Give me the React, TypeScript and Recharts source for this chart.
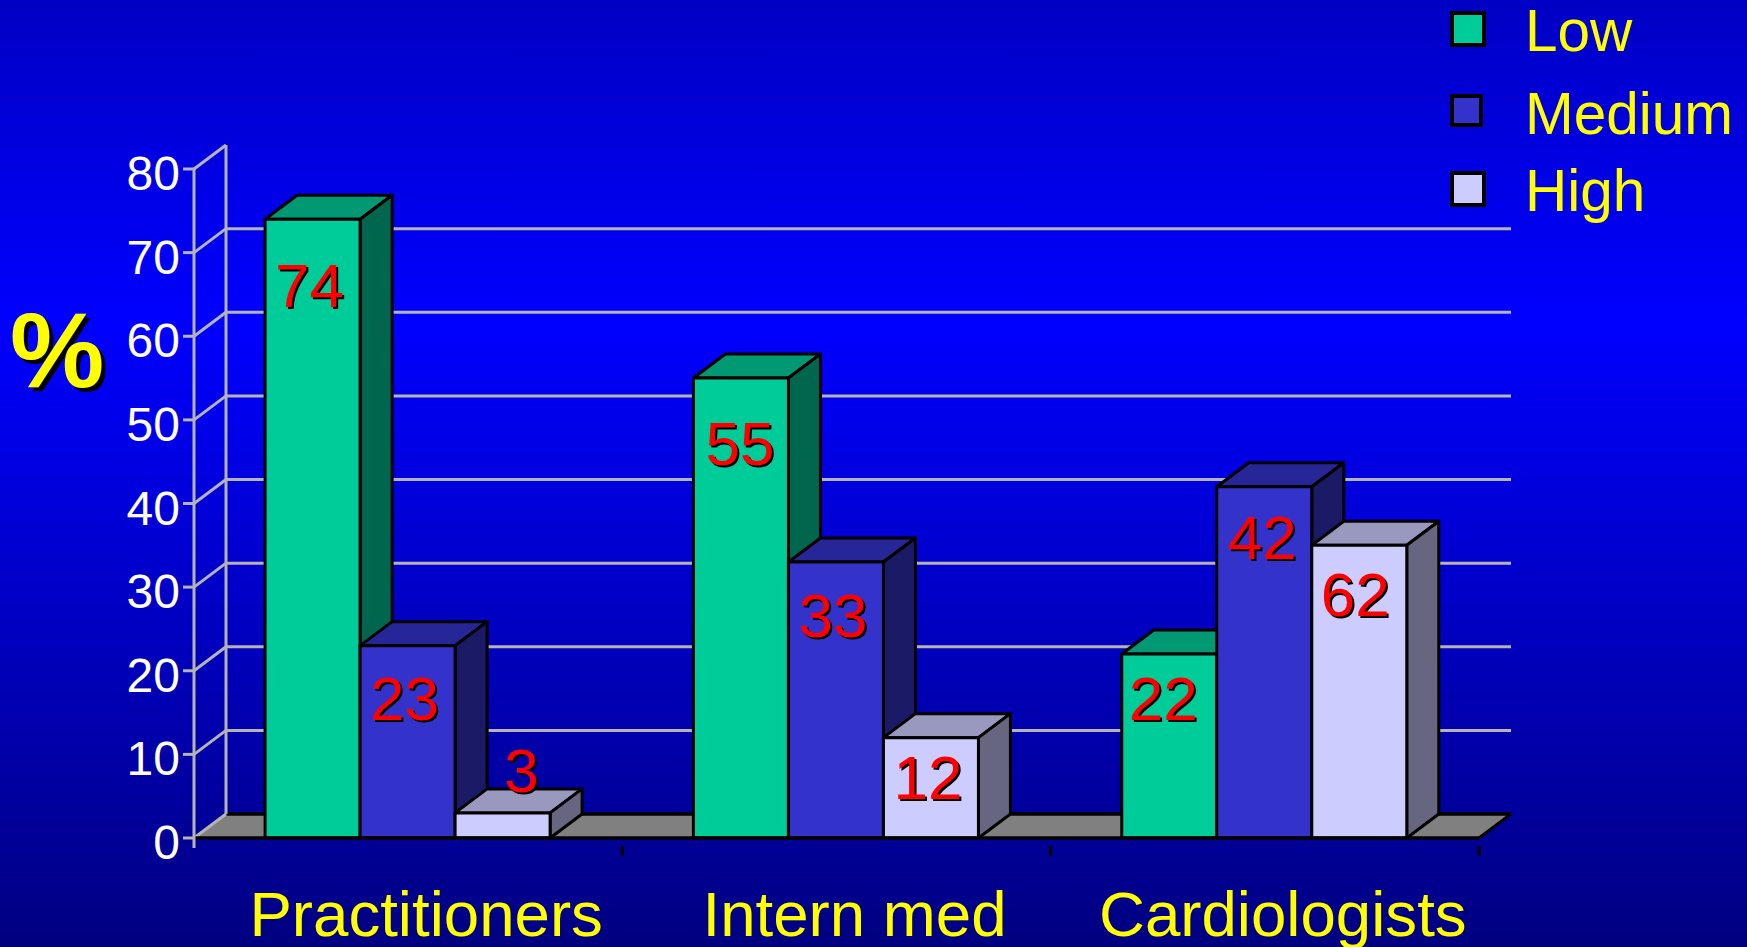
import React from 'react';
import { BarChart, Bar, XAxis, YAxis, CartesianGrid, Legend, LabelList } from 'recharts';

const categories = ['Practitioners', 'Intern med', 'Cardiologists'];
const lowValues = [74, 55, 22];
const mediumValues = [23, 33, 42];
const highValues = [3, 12, 35];
// the printed labels, the last one does not agree with its bar in the original slide
const lowLabels = ['74', '55', '22'];
const mediumLabels = ['23', '33', '42'];
const highLabels = ['3', '12', '62'];
const yTicks = [0, 10, 20, 30, 40, 50, 60, 70, 80];

const data = categories.map((name, i) => ({
  name,
  low: lowValues[i],
  medium: mediumValues[i],
  high: highValues[i],
  lowLabel: lowLabels[i],
  mediumLabel: mediumLabels[i],
  highLabel: highLabels[i],
}));

const WIDTH = 1747;
const HEIGHT = 947;
const LEFT = 194;
const RIGHT = 268;
const TOP = 169;
const BOTTOM = 109;
const DX = 32;
const DY = 24;
const FONT = '"Liberation Sans", Arial, sans-serif';
const GRID = '#b4b4b4';
const BAND = (WIDTH - LEFT - RIGHT) / categories.length;

const lowOffsets = [[-3, 66], [-1, 65], [-6, 44]];
const mediumOffsets = [[-3, 52], [-3, 53], [-2, 50]];
const highOffsets = [[19, -43], [-3, 39], [-4, 49]];

const legendRows = [
  { top: 11, size: 36, baseline: 51 },
  { top: 94, size: 33, baseline: 134 },
  { top: 171, size: 36, baseline: 211 },
];

const Box3D = (colors: { front: string; top: string; side: string }) => (props: any) => {
  const { x, y, width, height } = props;
  const r = x + width;
  const b = y + height;
  return (
    <g stroke="#000" strokeWidth={3} strokeLinejoin="round">
      <polygon points={`${x},${y} ${x + DX},${y - DY} ${r + DX},${y - DY} ${r},${y}`} fill={colors.top} />
      <polygon points={`${r},${y} ${r + DX},${y - DY} ${r + DX},${b - DY} ${r},${b}`} fill={colors.side} />
      <rect x={x} y={y} width={width} height={height} fill={colors.front} />
    </g>
  );
};

const barLabel = (offsets: number[][]) => (props: any) => {
  const box = props.viewBox || props;
  const w = box.width ?? box.upperWidth;
  const cx = box.x + w / 2 + offsets[props.index][0];
  const cy = box.y + offsets[props.index][1] + 22;
  const common = { x: cx, textAnchor: 'middle' as const, fontSize: 62, fontFamily: FONT };
  return (
    <g>
      <text {...common} y={cy + 2} dx={2} fill="#000">{props.value}</text>
      <text {...common} y={cy} fill="#ff0000">{props.value}</text>
    </g>
  );
};

// wall and floor, drawn from the y positions the grid hands over
const WallLine = (props: any) => {
  const { x1, x2, y1, y, height } = props;
  if (Math.abs(y1 - (y + height)) < 0.5) {
    return (
      <g key={`floor-${y1}`}>
        <polygon points={`${x1},${y1} ${x1 + DX},${y1 - DY} ${x2 + DX},${y1 - DY} ${x2},${y1}`} fill="#808080" />
        <line x1={x1 + DX} y1={y1 - DY} x2={x2 + DX} y2={y1 - DY} stroke="#000" strokeWidth={3.5} />
        <line x1={x2} y1={y1} x2={x2 + DX} y2={y1 - DY} stroke="#000" strokeWidth={3} />
        <line x1={x1} y1={y1} x2={x1 + DX} y2={y1 - DY} stroke={GRID} strokeWidth={3} />
        <line x1={x1 + DX} y1={y1 - DY} x2={x1 + DX} y2={y - DY} stroke={GRID} strokeWidth={3} />
      </g>
    );
  }
  return (
    <g key={`wall-${y1}`} stroke={GRID} strokeWidth={3} fill="none">
      <line x1={x1} y1={y1} x2={x1 + DX} y2={y1 - DY} />
      {Math.abs(y1 - y) > 0.5 && <line x1={x1 + DX} y1={y1 - DY} x2={x2 + DX} y2={y1 - DY} />}
    </g>
  );
};

const YTick = (props: any) => {
  const { x, y, payload } = props;
  return (
    <g>
      {payload.value === 0 && <line x1={LEFT} y1={y} x2={LEFT} y2={y + 10} stroke={GRID} strokeWidth={3} />}
      <text x={x} y={y + 21} textAnchor="end" fontSize={48} fontFamily={FONT} fill="#fff">{payload.value}</text>
    </g>
  );
};

const XTick = (props: any) => {
  const { x, y, payload } = props;
  return (
    <g>
      <line x1={x + BAND / 2} y1={y} x2={x + BAND / 2} y2={y + 10} stroke="#000" strokeWidth={3} />
      <text x={x + 18} y={936} textAnchor="middle" fontSize={63.6} fontFamily={FONT} fill="#ffff00">{payload.value}</text>
    </g>
  );
};

const LegendBox = (props: any) => (
  <div style={{ position: 'absolute', left: 0, top: 0, width: 0, height: 0 }}>
    {(props.payload || []).map((item: any, i: number) => {
      const row = legendRows[i];
      return (
        <React.Fragment key={item.value}>
          <div
            style={{
              position: 'absolute',
              left: 1450,
              top: row.top,
              width: row.size,
              height: row.size,
              boxSizing: 'border-box',
              border: '4px solid #000',
              background: item.color,
            }}
          />
          <div
            style={{
              position: 'absolute',
              left: 1525,
              top: row.baseline - 53,
              lineHeight: '66px',
              fontSize: 58.5,
              fontFamily: FONT,
              color: '#ffff00',
              whiteSpace: 'nowrap',
            }}
          >
            {item.value}
          </div>
        </React.Fragment>
      );
    })}
  </div>
);

const App: React.FC = () => {
  return (
    <div
      style={{
        position: 'fixed',
        left: 0,
        top: 0,
        width: WIDTH,
        height: HEIGHT,
        background: 'linear-gradient(180deg, #0000c4 0%, #0000ff 34%, #000080 100%)',
      }}
    >
      <BarChart
        width={WIDTH}
        height={HEIGHT}
        data={data}
        margin={{ top: TOP, right: RIGHT, left: 0, bottom: 0 }}
        barCategoryGap="16.6%"
        barGap={0}
      >
        <CartesianGrid horizontal={WallLine} vertical={false} />
        <XAxis
          dataKey="name"
          height={BOTTOM}
          axisLine={{ stroke: '#000', strokeWidth: 3.5 }}
          tickLine={false}
          tick={XTick}
          interval={0}
        />
        <YAxis
          width={LEFT}
          domain={[0, 80]}
          ticks={yTicks}
          interval={0}
          axisLine={{ stroke: GRID, strokeWidth: 3 }}
          tickLine={{ stroke: GRID, strokeWidth: 3 }}
          tickSize={11}
          tickMargin={3}
          tick={YTick}
        />
        <Legend
          layout="horizontal"
          verticalAlign="middle"
          align="center"
          itemSorter={null}
          content={LegendBox}
          wrapperStyle={{ left: 0, top: 0, width: 0, height: 0 }}
        />
        <Bar dataKey="low" name="Low" fill="#00cc99" isAnimationActive={false} shape={Box3D({ front: '#00cc99', top: '#009973', side: '#00664d' })}>
          <LabelList dataKey="lowLabel" content={barLabel(lowOffsets)} />
        </Bar>
        <Bar dataKey="medium" name="Medium" fill="#3333cc" isAnimationActive={false} shape={Box3D({ front: '#3333cc', top: '#262699', side: '#1a1a66' })}>
          <LabelList dataKey="mediumLabel" content={barLabel(mediumOffsets)} />
        </Bar>
        <Bar dataKey="high" name="High" fill="#ccccff" isAnimationActive={false} shape={Box3D({ front: '#ccccff', top: '#9999bf', side: '#666680' })}>
          <LabelList dataKey="highLabel" content={barLabel(highOffsets)} />
        </Bar>
        <text x={10} y={387} fontSize={106} fontWeight="bold" fontFamily={FONT} fill="#000" dx={4} dy={4}>%</text>
        <text x={10} y={387} fontSize={106} fontWeight="bold" fontFamily={FONT} fill="#ffff00">%</text>
      </BarChart>
    </div>
  );
};

export default App;
